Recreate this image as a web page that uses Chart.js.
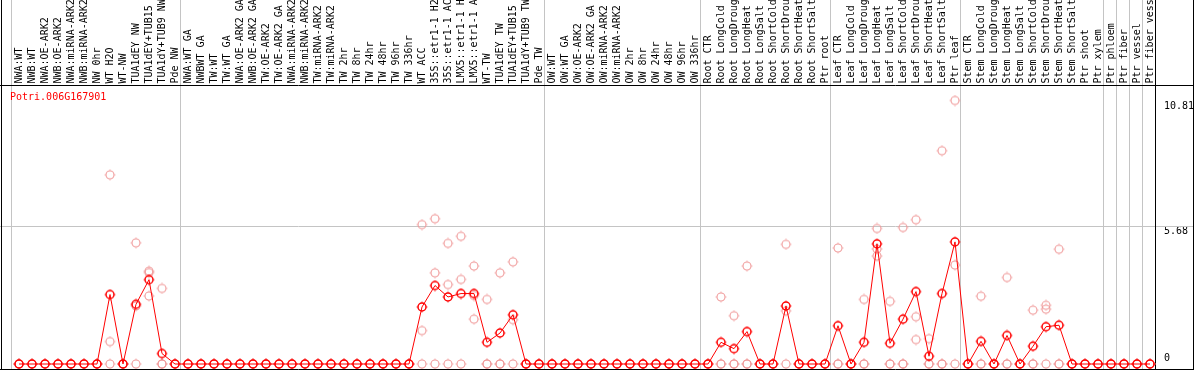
<!DOCTYPE html>
<html><head><meta charset="utf-8">
<script src="https://cdn.jsdelivr.net/npm/chart.js@4.4.1/dist/chart.umd.min.js"></script>
<style>html,body{margin:0;padding:0;background:#fff;overflow:hidden}#wrap{width:1194px;height:370px;position:relative}</style>
</head><body><div id="wrap"><canvas id="c" width="1194" height="370"></canvas></div>
<script>
const geneId = 'Potri.006G167901';
const categories = [
 'NWA:WT','NWB:WT','NWA:OE-ARK2','NWB:OE-ARK2','NWA:miRNA-ARK2','NWB:miRNA-ARK2','NW 0hr','WT H2O','WT-NW','TUA1dEY NW','TUA1dEY+TUB15','TUA1dY+TUB9 NW','Pde NW',
 'NWA:WT GA','NWBWT GA','TW:WT','TW:WT GA','NWA:OE-ARK2 GA','NWB:OE-ARK2 GA','TW:OE-ARK2','TW:OE-ARK2 GA','NWA:miRNA-ARK2','NWB:miRNA-ARK2','TW:miRNA-ARK2','TW:miRNA-ARK2','TW 2hr','TW 8hr','TW 24hr','TW 48hr','TW 96hr','TW 336hr','WT ACC','35S::etr1-1 H2','35S::etr1-1 AC','LMX5::etr1-1 H','LMX5::etr1-1 A','WT-TW','TUA1dEY TW','TUA1dEY+TUB15','TUA1dY+TUB9 TW','Pde TW',
 'OW:WT','OW:WT GA','OW:OE-ARK2','OW:OE-ARK2 GA','OW:miRNA-ARK2','OW:miRNA-ARK2','OW 2hr','OW 8hr','OW 24hr','OW 48hr','OW 96hr','OW 336hr',
 'Root CTR','Root LongCold','Root LongDroug','Root LongHeat','Root LongSalt','Root ShortCold','Root ShortDrou','Root ShortHeat','Root ShortSalt','Ptr root',
 'Leaf CTR','Leaf LongCold','Leaf LongDroug','Leaf LongHeat','Leaf LongSalt','Leaf ShortCold','Leaf ShortDrou','Leaf ShortHeat','Leaf ShortSalt','Ptr leaf',
 'Stem CTR','Stem LongCold','Stem LongDroug','Stem LongHeat','Stem LongSalt','Stem ShortCold','Stem ShortDrou','Stem ShortHeat','Stem ShortSalt','Ptr shoot','Ptr xylem',
 'Ptr phloem','Ptr fiber','Ptr vessel','Ptr fiber vess'
];
// mean expression (connected red line)
const expression = [
 0,0,0,0,0,0,0,2.85,0,2.45,3.46,0.43,0,
 0,0,0,0,0,0,0,0,0,0,0,0,0,0,0,0,0,0,2.34,3.22,2.75,2.89,2.89,0.89,1.27,2.02,0,0,
 0,0,0,0,0,0,0,0,0,0,0,0,
 0,0.89,0.63,1.33,0,0,2.38,0,0,0,
 1.57,0,0.89,4.93,0.85,1.84,2.97,0.32,2.89,5.01,
 0,0.93,0,1.17,0,0.73,1.53,1.59,0,0,0,
 0,0,0,0
];
// individual replicates (pale circles)
const replicate1 = [
 0,0,0,0,0,0,0,7.76,0,4.97,3.81,3.10,0,
 0,0,0,0,0,0,0,0,0,0,0,0,0,0,0,0,0,0,5.72,5.96,4.95,5.24,4.02,2.65,3.74,4.19,0,0,
 0,0,0,0,0,0,0,0,0,0,0,0,
 0,2.75,1.98,4.02,0,0,4.91,0,0,0,
 4.76,0,2.65,5.56,2.57,5.60,5.92,1.04,8.75,10.81,
 0,2.78,0,3.55,0,2.21,2.41,4.71,0,0,0,
 0,0,0,0
];
const replicate2 = [
 0,0,0,0,0,0,0,0.92,0,2.38,3.75,0,0,
 0,0,0,0,0,0,0,0,0,0,0,0,0,0,0,0,0,0,1.37,3.74,3.26,3.47,2.81,0,0,1.82,0,0,
 0,0,0,0,0,0,0,0,0,0,0,0,
 0,0,0,0,0,0,2.18,0,0,0,
 0,0,0,4.72,0,0,1.94,0,0,4.06,
 0,0,0,0,0,0,2.25,0,0,0,0,
 0,0,0,0
];
const replicate3 = [
 0,0,0,0,0,0,0,0,0,0,2.79,0,0,
 0,0,0,0,0,0,0,0,0,0,0,0,0,0,0,0,0,0,0,0,0,0,1.84,0,0,0,0,0,
 0,0,0,0,0,0,0,0,0,0,0,0,
 0,0,0,0,0,0,0,0,0,0,
 0,0,0,4.43,0,0,1.00,0,0,0,
 0,0,0,0,0,0,0,0,0,0,0,
 0,0,0,0
];
const tickValues = [0, 5.68, 10.81];
const tickLabels = ['0', '5.68', '10.81'];
const gridValue = 5.68;
// last category index of each block (separator drawn after it)
const groupEnds = [-1, 12, 40, 52, 62, 72, 83, 84, 85, 86, 87];

const FONT = 'DejaVu Sans Mono';
function makeMarker(color, lw) {
  const c = document.createElement('canvas');
  c.width = 12; c.height = 12;
  const g = c.getContext('2d');
  g.strokeStyle = color;
  g.lineWidth = lw;
  g.beginPath(); g.arc(6, 6, 4, 0, Math.PI * 2); g.stroke();
  g.fillStyle = color;
  g.fillRect(5.5, 0.6, 1, 1);
  g.fillRect(5.5, 10.4, 1, 1);
  g.fillRect(0.6, 5.5, 1, 1);
  g.fillRect(10.4, 5.5, 1, 1);
  return c;
}
const mainMarker = makeMarker('#ff0000', 1.5);
const paleMarker = makeMarker('#f09a9a', 1.1);

const decor = {
  id: 'decor',
  beforeDatasetsDraw(chart) {
    const {ctx} = chart;
    const xs = chart.scales.x, ys = chart.scales.y;
    ctx.save();
    ctx.lineWidth = 1;
    ctx.strokeStyle = '#c4c4c4';
    const gy = Math.round(ys.getPixelForValue(gridValue)) + 0.5;
    ctx.beginPath(); ctx.moveTo(0, gy); ctx.lineTo(chart.width, gy); ctx.stroke();
    groupEnds.forEach(i => {
      const px = Math.round((xs.getPixelForValue(i) + xs.getPixelForValue(i + 1)) / 2 - 1.5) + 0.5;
      ctx.strokeStyle = i === categories.length - 1 ? '#000000' : '#c4c4c4';
      ctx.beginPath(); ctx.moveTo(px, 0); ctx.lineTo(px, chart.height); ctx.stroke();
    });
    ctx.restore();
  },
  afterDraw(chart) {
    const {ctx} = chart;
    ctx.save();
    ctx.strokeStyle = '#000';
    ctx.lineWidth = 1;
    ctx.beginPath();
    ctx.moveTo(0, 85.5); ctx.lineTo(chart.width, 85.5);
    ctx.moveTo(1.5, 0); ctx.lineTo(1.5, chart.height);
    ctx.moveTo(chart.width - 0.5, 0); ctx.lineTo(chart.width - 0.5, chart.height);
    ctx.moveTo(0, chart.height - 0.5); ctx.lineTo(chart.width, chart.height - 0.5);
    ctx.stroke();
    ctx.fillStyle = '#ff0000';
    ctx.font = '10px "' + FONT + '"';
    ctx.textBaseline = 'middle';
    ctx.textAlign = 'left';
    ctx.fillText(geneId, 10, 97);
    ctx.restore();
  }
};

new Chart(document.getElementById('c'), {
  type: 'line',
  data: {
    labels: categories,
    datasets: [
      {label: 'mean', data: expression, borderColor: '#ff0000', borderWidth: 1, tension: 0,
       pointStyle: mainMarker, pointRadius: 5, order: 0, clip: false, fill: false},
      {label: 'rep1', data: replicate1, showLine: false, pointStyle: paleMarker, pointRadius: 5, order: 1, clip: false},
      {label: 'rep2', data: replicate2, showLine: false, pointStyle: paleMarker, pointRadius: 5, order: 2, clip: false},
      {label: 'rep3', data: replicate3, showLine: false, pointStyle: paleMarker, pointRadius: 5, order: 3, clip: false}
    ]
  },
  options: {
    responsive: false,
    animation: false,
    devicePixelRatio: 1,
    layout: {padding: {left: 12.5, right: 0, top: 0, bottom: 1}},
    plugins: {legend: {display: false}, tooltip: {enabled: false}},
    scales: {
      x: {
        type: 'category', position: 'top', offset: true,
        grid: {display: false, drawTicks: false, tickLength: 0}, border: {display: false},
        ticks: {autoSkip: false, minRotation: 90, maxRotation: 90, padding: 17, labelOffset: 12,
                color: '#000', font: {family: FONT, size: 10}},
        afterFit(s) { s.height = 100.5; s.paddingLeft = 0; s.paddingRight = 0; }
      },
      y: {
        position: 'right', min: 0, max: tickValues[tickValues.length - 1],
        grid: {display: false, drawTicks: false, tickLength: 0}, border: {display: false},
        afterBuildTicks(s) { s.ticks = tickValues.map(v => ({value: v})); },
        ticks: {padding: 7.5, color: '#000', font: {family: FONT, size: 10},
          callback(v) { const t = tickLabels[tickValues.indexOf(v)]; return v === 0 ? [t, ''] : ['', t]; }},
        afterFit(s) { s.width = 37.5; s.paddingTop = 0; s.paddingBottom = 0; }
      }
    }
  },
  plugins: [decor]
});
</script></body></html>
